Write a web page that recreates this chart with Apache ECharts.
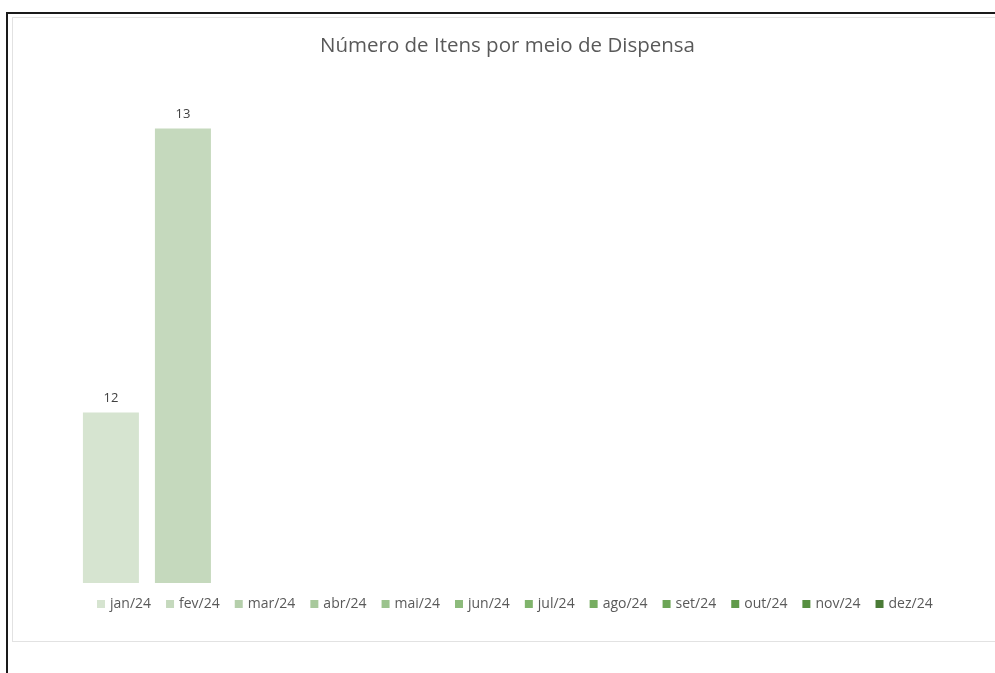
<!DOCTYPE html>
<html>
<head>
<meta charset="utf-8">
<title>Número de Itens por meio de Dispensa</title>
<script src="https://cdn.jsdelivr.net/npm/echarts@6/dist/echarts.min.js"></script>
<style>
  html, body { margin: 0; padding: 0; background: #fff; overflow: hidden; }
  #frame { position: absolute; left: 6px; top: 12px; width: 1100px; height: 800px;
           border-left: 2px solid #1a1a1a; border-top: 2px solid #1a1a1a; }
  #box { position: absolute; left: 12px; top: 17px; width: 1100px; height: 623px;
         border: 1px solid #e2e2e2; }
  #main { position: absolute; left: 0; top: 0; width: 995px; height: 673px; }
</style>
</head>
<body>
<div id="frame"></div>
<div id="box"></div>
<div id="main"></div>
<script>
// months shown in the legend (one series each)
const months = ['jan/24', 'fev/24', 'mar/24', 'abr/24', 'mai/24', 'jun/24',
                'jul/24', 'ago/24', 'set/24', 'out/24', 'nov/24', 'dez/24'];
// number of items per month, only jan and fev have data
const itemCounts = [12, 13, null, null, null, null, null, null, null, null, null, null];
// green shades, light to dark
const monthColors = ['#d6e4d0', '#c5d9bd', '#b5cfab', '#a8c99c', '#9bc38d', '#8dbb7c',
                     '#80b46c', '#77ad61', '#6ca556', '#609a4a', '#568f40', '#4a7b36'];

const seriesList = months.map((m, i) => ({
    name: m,
    type: 'bar',
    data: [itemCounts[i]],
    barWidth: 56,
    barGap: '28.6%',
    itemStyle: { color: monthColors[i] },
    label: {
        show: true,
        position: 'top',
        distance: 8,
        fontSize: 13,
        color: '#404040',
        fontFamily: 'Open Sans'
    }
}));

let optionObj = {
    animation: false,
    textStyle: { fontFamily: 'Open Sans' },
    title: {
        text: 'Número de Itens por meio de Dispensa',
        left: 315,
        top: 31,
        textStyle: { fontSize: 20.5, fontWeight: 'normal', color: '#595959', fontFamily: 'Open Sans' }
    },
    legend: {
        data: months,
        top: 592,
        left: 92,
        itemWidth: 8,
        itemHeight: 8,
        itemGap: 15,
        icon: 'rect',
        textStyle: { fontSize: 14, color: '#595959', fontFamily: 'Open Sans' }
    },
    grid: { left: 70, right: 51, top: 100, bottom: 90 },
    xAxis: {
        type: 'category',
        data: [''],
        axisLine: { show: false },
        axisTick: { show: false },
        axisLabel: { show: false }
    },
    yAxis: {
        type: 'value',
        min: 11.4,
        max: 13.1,
        show: false,
        splitLine: { show: false }
    },
    series: seriesList
};

let chartDom = document.getElementById('main');
let myChart = echarts.init(chartDom);
myChart.setOption(optionObj);
</script>
</body>
</html>
